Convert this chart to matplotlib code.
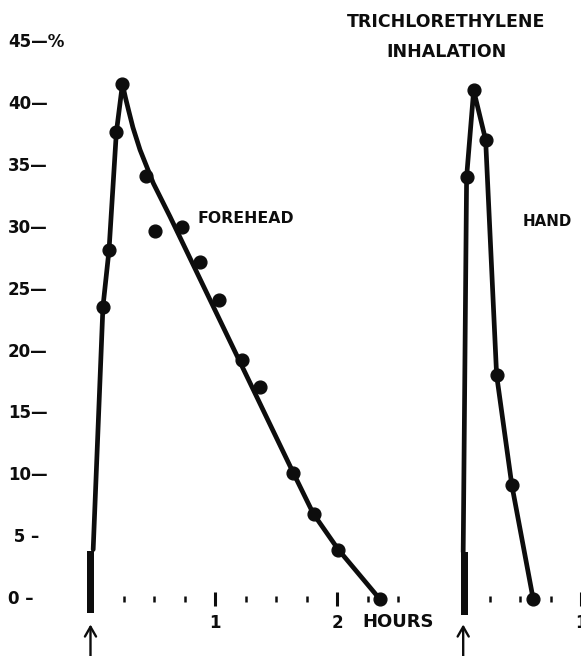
import matplotlib

matplotlib.use("Agg")

import matplotlib.pyplot as plt  # noqa: E402
import matplotlib.transforms as mtransforms  # noqa: E402

INK = "#0d0d0d"

# Hours after the start of exposure; the hand run is drawn on the same
# axis, shifted right by HAND_OFFSET hours.
HAND_OFFSET = 3.0

# Forehead: measured points (hours, %)
FOREHEAD_T = [0.08, 0.13, 0.19, 0.24, 0.43, 0.51, 0.73, 0.88, 1.03, 1.22, 1.37, 1.64, 1.81, 2.01, 2.35]
FOREHEAD_V = [23.6, 28.2, 37.7, 41.6, 34.2, 29.7, 30.1, 27.2, 24.2, 19.3, 17.1, 10.2, 6.9, 4.0, 0.0]

# Forehead: hand-drawn curve, rise then smoothed decay
FOREHEAD_RISE_T = [0.0, 0.08, 0.13, 0.19, 0.24]
FOREHEAD_RISE_V = [4.0, 23.6, 28.2, 37.7, 41.6]
FOREHEAD_FALL_T = [0.24, 0.265, 0.29, 0.326, 0.384, 0.493, 0.63, 1.641, 1.805, 2.01, 2.35]
FOREHEAD_FALL_V = [41.6, 40.5, 39.5, 38.1, 36.3, 33.6, 30.9, 10.2, 6.9, 4.0, 0.0]

# Hand: measured points, joined by straight segments
HAND_T = [0.062, 0.12, 0.218, 0.308, 0.433, 0.608]
HAND_V = [34.1, 41.1, 37.1, 18.1, 9.2, 0.0]
HAND_LINE_START = (0.034, 3.8)

# Exposure marks at the start of each run: (time, bottom, top)
EXPOSURE_BARS = [(-0.022, -1.1, 3.85), (HAND_OFFSET + 0.044, -1.3, 3.8)]
ARROW_T = [-0.022, HAND_OFFSET + 0.034]

Y_TICKS = [0, 5, 10, 15, 20, 25, 30, 35, 40, 45]
Y_LABELS = ["0 –", " 5 –", "10—", "15—", "20—", "25—", "30—", "35—", "40—", "45—%"]

X_MAJOR = [1, 2, 4]
X_MAJOR_LABELS = ["1", "2", "1"]
X_MINOR = [0.25, 0.5, 0.75, 1.25, 1.5, 1.75, 2.25, 2.5, 3.25, 3.5, 3.75]

plt.rcParams["font.family"] = ["DejaVu Sans"]
plt.rcParams["font.weight"] = "bold"

fig = plt.figure(figsize=(5.81, 6.56), dpi=100, facecolor="white")
ax = fig.add_axes([0, 0, 1, 1])
ax.set_xlim(-0.764, 4.0)
ax.set_ylim(-4.6, 48.4)

line_kw = dict(color=INK, lw=3.4, solid_capstyle="round", solid_joinstyle="round")
dot_kw = dict(ls="none", marker="o", ms=9.2, color=INK)

# forehead
ax.plot(FOREHEAD_RISE_T, FOREHEAD_RISE_V, **line_kw)
ax.plot(FOREHEAD_FALL_T, FOREHEAD_FALL_V, **line_kw)
ax.plot(FOREHEAD_T, FOREHEAD_V, **dot_kw)

# hand
hand_t = [HAND_OFFSET + HAND_LINE_START[0]] + [HAND_OFFSET + t for t in HAND_T]
hand_v = [HAND_LINE_START[1]] + HAND_V
ax.plot(hand_t, hand_v, **line_kw)
ax.plot([HAND_OFFSET + t for t in HAND_T], HAND_V, **dot_kw)

for t, lo, hi in EXPOSURE_BARS:
    ax.bar(t, hi - lo, bottom=lo, width=0.055, color=INK, linewidth=0)

for t in ARROW_T:
    ax.annotate(
        "", xy=(t, -2.05), xytext=(t, -4.8),
        arrowprops=dict(arrowstyle="->,head_length=0.7,head_width=0.4",
                        lw=1.7, color=INK, shrinkA=0, shrinkB=0),
    )

# x axis: ticks only, sitting on the zero line
for side in ("top", "right", "left", "bottom"):
    ax.spines[side].set_visible(False)
ax.spines["bottom"].set_position(("data", 0))
ax.set_xticks(X_MAJOR)
ax.set_xticklabels(X_MAJOR_LABELS, fontsize=12, fontweight="bold", color=INK)
ax.set_xticks(X_MINOR, minor=True)
ax.tick_params(axis="x", which="major", direction="inout", length=9.5, width=2.2,
               color=INK, pad=6)
ax.tick_params(axis="x", which="minor", direction="inout", length=4.5, width=1.8,
               color=INK)
ax.set_yticks([])

# y labels carry their own dash, set inside the left edge
ylab = mtransforms.blended_transform_factory(ax.transAxes, ax.transData)
for v, lab in zip(Y_TICKS, Y_LABELS):
    ax.text(8 / 581, v, lab, transform=ylab, ha="left", va="center",
            fontsize=12, fontweight="bold", color=INK)

ax.text(2.21, -1.83, "HOURS", ha="left", va="center", fontsize=13,
        fontweight="bold", color=INK)
ax.text(0.854, 30.77, "FOREHEAD", ha="left", va="center", fontsize=11.3,
        fontweight="bold", color=INK)
ax.text(3.522, 30.49, "HAND", ha="left", va="center", fontsize=10.8,
        fontweight="bold", color=INK)
ax.text(2.897, 46.63, "TRICHLORETHYLENE", ha="center", va="center",
        fontsize=12.5, fontweight="bold", color=INK)
ax.text(2.897, 44.23, "INHALATION", ha="center", va="center",
        fontsize=12.5, fontweight="bold", color=INK)

fig.savefig("out.png", dpi=100, facecolor="white")
plt.close(fig)
